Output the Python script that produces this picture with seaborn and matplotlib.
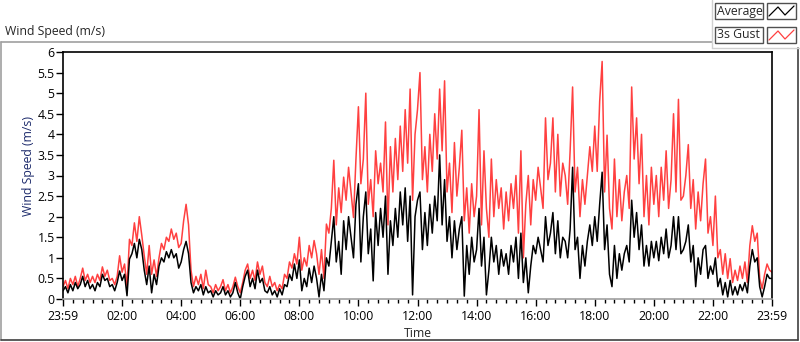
import numpy as np
import pandas as pd
import matplotlib
matplotlib.use('Agg')
import matplotlib.pyplot as plt
import seaborn as sns
from matplotlib.patches import Rectangle
from matplotlib.lines import Line2D

# 5-minute samples, one row per hour (23:59 .. 23:59 next day)
gust = [
    0.3, 0.45, 0.25, 0.5, 0.35, 0.55, 0.3, 0.5, 0.75, 0.45, 0.6, 0.4,
    0.55, 0.4, 0.6, 0.45, 0.78, 0.55, 0.7, 0.45, 0.5, 0.35, 0.55, 1.05,
    0.65, 0.85, 0.3, 1.45, 1.3, 1.85, 1.4, 2.0, 1.55, 1.05, 0.6, 1.3,
    0.6, 0.95, 0.55, 1.0, 1.35, 1.2, 1.5, 1.4, 1.7, 1.45, 1.6, 1.25,
    1.35, 1.9, 2.3, 1.8, 0.7, 0.3, 0.55, 0.35, 0.6, 0.25, 0.7, 0.35,
    0.3, 0.15, 0.35, 0.2, 0.3, 0.47, 0.2, 0.35, 0.15, 0.3, 0.53, 0.3,
    0.15, 0.4, 0.7, 0.85, 0.5, 0.7, 0.45, 0.9, 0.6, 0.8, 0.4, 0.3,
    0.55, 0.3, 0.4, 0.2, 0.35, 0.25, 0.6, 0.5, 0.9, 0.75, 1.1, 0.85,
    1.5, 0.7, 1.0, 0.8, 1.3, 1.0, 1.42, 1.1, 0.6, 1.2, 0.5, 1.82,
    1.6, 2.2, 3.37, 1.8, 2.7, 2.1, 2.96, 2.4, 3.2, 2.6, 1.98, 3.4,
    4.67, 2.8, 3.4, 5.0, 2.3, 2.9, 2.0, 3.6, 2.8, 3.3, 2.6, 4.3,
    1.8, 3.7, 2.6, 3.9, 2.9, 4.2, 3.1, 4.6, 3.3, 5.1, 2.4, 4.0,
    4.6, 5.5, 2.9, 3.7, 2.6, 4.0, 3.1, 4.5, 3.4, 5.1, 3.6, 5.3,
    2.6, 3.3, 2.1, 3.8, 2.5, 3.2, 4.1, 1.9, 2.7, 1.6, 2.8, 2.0,
    2.5, 4.6, 1.8, 3.6, 2.2, 1.5, 3.4, 2.0, 2.9, 2.2, 2.7, 1.7,
    2.6, 1.9, 2.8, 2.2, 3.0, 1.6, 3.6, 1.0, 2.3, 3.0, 1.8, 2.9,
    2.4, 3.2, 2.7, 2.2, 4.4, 2.9, 3.3, 4.4, 2.6, 4.0, 2.5, 3.3,
    3.0, 2.3, 3.6, 5.15, 2.6, 3.2, 2.0, 2.9, 2.3, 3.0, 3.7, 3.1,
    4.2, 3.1, 4.8, 5.77, 2.6, 3.98, 2.2, 1.7, 3.4, 2.0, 2.9, 1.9,
    2.6, 3.0, 2.2, 5.15, 3.4, 4.4, 2.8, 4.0, 2.0, 3.0, 1.8, 3.2,
    2.3, 3.0, 2.0, 3.2, 2.4, 3.6, 2.2, 2.9, 4.5, 2.6, 4.85, 2.4,
    2.5, 3.0, 3.75, 2.2, 2.9, 1.7, 2.6, 1.9, 2.8, 3.4, 1.6, 2.0,
    1.3, 2.5, 1.0, 1.2, 0.6, 1.1, 0.5, 0.98, 0.4, 0.7, 0.45, 0.8,
    0.5, 0.9, 0.4, 1.3, 1.78, 1.4, 1.6, 0.5, 0.25, 0.6, 0.85, 0.7,
    0.65,
]
average = [
    0.2, 0.3, 0.15, 0.35, 0.2, 0.4, 0.25, 0.35, 0.55, 0.3, 0.45, 0.25,
    0.35, 0.2, 0.4, 0.3, 0.6, 0.45, 0.5, 0.3, 0.35, 0.2, 0.4, 0.68,
    0.45, 0.6, 0.08, 0.97, 1.1, 1.35, 1.0, 1.45, 1.2, 0.7, 0.35, 0.8,
    0.15, 0.6, 0.35, 0.8, 1.0, 0.9, 1.15, 1.0, 1.2, 1.0, 1.1, 0.75,
    0.9, 1.2, 1.4, 1.1, 0.4, 0.15, 0.3, 0.2, 0.35, 0.1, 0.3, 0.15,
    0.2, 0.05, 0.2, 0.1, 0.15, 0.3, 0.1, 0.2, 0.05, 0.15, 0.4, 0.15,
    0.0, 0.3, 0.55, 0.7, 0.3, 0.5, 0.25, 0.7, 0.4, 0.5, 0.2, 0.15,
    0.3, 0.1, 0.2, 0.05, 0.25, 0.1, 0.35, 0.3, 0.6, 0.45, 0.85, 0.5,
    0.95, 0.2, 0.5, 0.3, 0.75, 0.4, 0.8, 0.5, 0.05, 0.6, 0.2, 1.0,
    0.8, 1.4, 2.0, 0.9, 1.4, 0.6, 1.9, 1.2, 2.0, 1.5, 1.0, 2.3,
    2.8, 0.9, 2.0, 2.6, 1.1, 1.7, 0.44, 2.1, 1.3, 2.2, 1.5, 2.5,
    0.6, 1.9, 1.3, 2.2, 1.5, 2.6, 1.8, 2.7, 1.4, 2.5, 0.1, 2.0,
    2.4, 2.6, 1.2, 2.1, 1.3, 2.3, 1.6, 2.5, 1.9, 3.5, 1.8, 2.9,
    1.4, 2.0, 1.0, 1.9, 1.2, 1.7, 2.0, 0.07, 1.3, 0.6, 1.5, 0.9,
    1.2, 2.2, 0.8, 1.5, 0.1, 0.7, 1.5, 0.9, 1.3, 0.6, 1.2, 0.8,
    1.1, 0.6, 1.3, 0.9, 1.5, 0.5, 1.6, 0.4, 1.0, 0.15, 0.8, 1.3,
    1.1, 1.5, 1.2, 0.9, 2.0, 1.3, 1.6, 2.1, 1.1, 1.9, 1.0, 1.5,
    1.4, 1.0, 1.7, 3.2, 1.2, 1.5, 0.5, 1.3, 0.8, 1.4, 1.8, 1.3,
    2.0, 1.4, 2.3, 3.08, 1.2, 1.8, 0.6, 0.3, 1.3, 0.5, 1.1, 0.7,
    1.1, 1.3, 0.9, 2.4, 1.5, 2.1, 1.2, 1.8, 0.8, 1.3, 0.8, 1.4,
    1.0, 1.4, 0.93, 1.5, 1.1, 1.7, 1.0, 1.3, 2.0, 1.2, 2.0, 1.1,
    1.2, 1.4, 1.8, 0.9, 1.3, 0.3, 1.0, 0.6, 1.2, 1.3, 0.5, 0.8,
    0.6, 1.0, 0.3, 0.5, 0.1, 0.4, 0.05, 0.45, 0.1, 0.3, 0.1, 0.35,
    0.2, 0.4, 0.15, 0.8, 1.2, 0.9, 1.0, 0.3, 0.05, 0.3, 0.6, 0.5,
    0.5,
]
tick_labels = ['23:59', '02:00', '04:00', '06:00', '08:00', '10:00', '12:00',
               '14:00', '16:00', '18:00', '20:00', '22:00', '23:59']
y_ticks = [0, 0.5, 1, 1.5, 2, 2.5, 3, 3.5, 4, 4.5, 5, 5.5, 6]

hours = np.arange(len(gust)) * 5 / 60
df = pd.DataFrame({'Time': hours, 'Average': average, '3s Gust': gust})

sns.set_style('white')
plt.rcParams['font.family'] = ['Open Sans', 'DejaVu Sans']

W, H = 800, 342


def fx(px):
    return px / W


def fy(py):
    return 1 - py / H


fig = plt.figure(figsize=(8, 3.42), dpi=100)
ax = fig.add_axes([fx(63), fy(299), fx(772) - fx(63), fy(52) - fy(299)])

red = '#ff4040'
sns.lineplot(data=df, x='Time', y='3s Gust', color=red, linewidth=1.1, ax=ax)
sns.lineplot(data=df, x='Time', y='Average', color='black', linewidth=1.1, ax=ax)

ax.set_xlim(0, 24)
ax.set_ylim(0, 6)
ax.set_xticks(range(0, 25, 2))
ax.set_xticklabels(tick_labels)
ax.set_xticks(np.arange(0, 24.01, 1 / 3), minor=True)
ax.set_yticks(y_ticks)
ax.set_yticklabels([f'{t:g}' for t in y_ticks])
ax.tick_params(axis='both', which='both', direction='out', labelsize=8.8,
               colors='black', bottom=True, left=True)
ax.tick_params(axis='x', which='major', length=5, width=1, pad=3)
ax.tick_params(axis='x', which='minor', length=3, width=1)
ax.tick_params(axis='y', which='major', length=5, width=1, pad=1)
ax.set_xlabel('Time', fontsize=8.8, labelpad=3)
ax.set_ylabel('Wind Speed (m/s)', fontsize=8.8, color='#1c2a6b')
ax.yaxis.set_label_coords(-0.039, 0.54)
for side in ['left', 'top', 'right']:
    ax.spines[side].set_color('black')
    ax.spines[side].set_linewidth(1.2)
ax.spines['bottom'].set_color('#a0a0a0')
ax.spines['bottom'].set_linewidth(1.2)

# chart frame and title
frame_col = '#a0a0a0'
fig.add_artist(Line2D([fx(1), fx(712)], [fy(42), fy(42)], color=frame_col, lw=1.2))
fig.add_artist(Line2D([fx(1), fx(1)], [fy(42), fy(340)], color=frame_col, lw=1.2))
fig.add_artist(Line2D([fx(1), fx(798)], [fy(340), fy(340)], color='#404040', lw=1.2))
fig.add_artist(Line2D([fx(798), fx(798)], [fy(48), fy(340)], color='#404040', lw=1.2))
fig.text(fx(5), fy(31), 'Wind Speed (m/s)', fontsize=8.8, va='center', ha='left')

# legend panel
fig.add_artist(Line2D([fx(712), fx(712)], [fy(0), fy(48)], color='#d0d0d0', lw=1))
fig.add_artist(Line2D([fx(712), fx(800)], [fy(48), fy(48)], color='#d0d0d0', lw=1))
for row, (name, col) in enumerate([('Average', 'black'), ('3s Gust', red)]):
    top = 3 + row * 24
    fig.add_artist(Rectangle((fx(715), fy(top + 16)), fx(763) - fx(715), fy(top) - fy(top + 16),
                             transform=fig.transFigure, fill=False, ec='#505050', lw=1))
    fig.add_artist(Rectangle((fx(767), fy(top + 16)), fx(796) - fx(767), fy(top) - fy(top + 16),
                             transform=fig.transFigure, fill=False, ec='#505050', lw=1))
    fig.text(fx(717), fy(top + 8), name, fontsize=8.8, va='center', ha='left')
    fig.add_artist(Line2D([fx(769), fx(778), fx(785), fx(794)],
                          [fy(top + 13), fy(top + 4), fy(top + 12), fy(top + 3)],
                          color=col, lw=0.9))

fig.savefig('out.png', dpi=100)
